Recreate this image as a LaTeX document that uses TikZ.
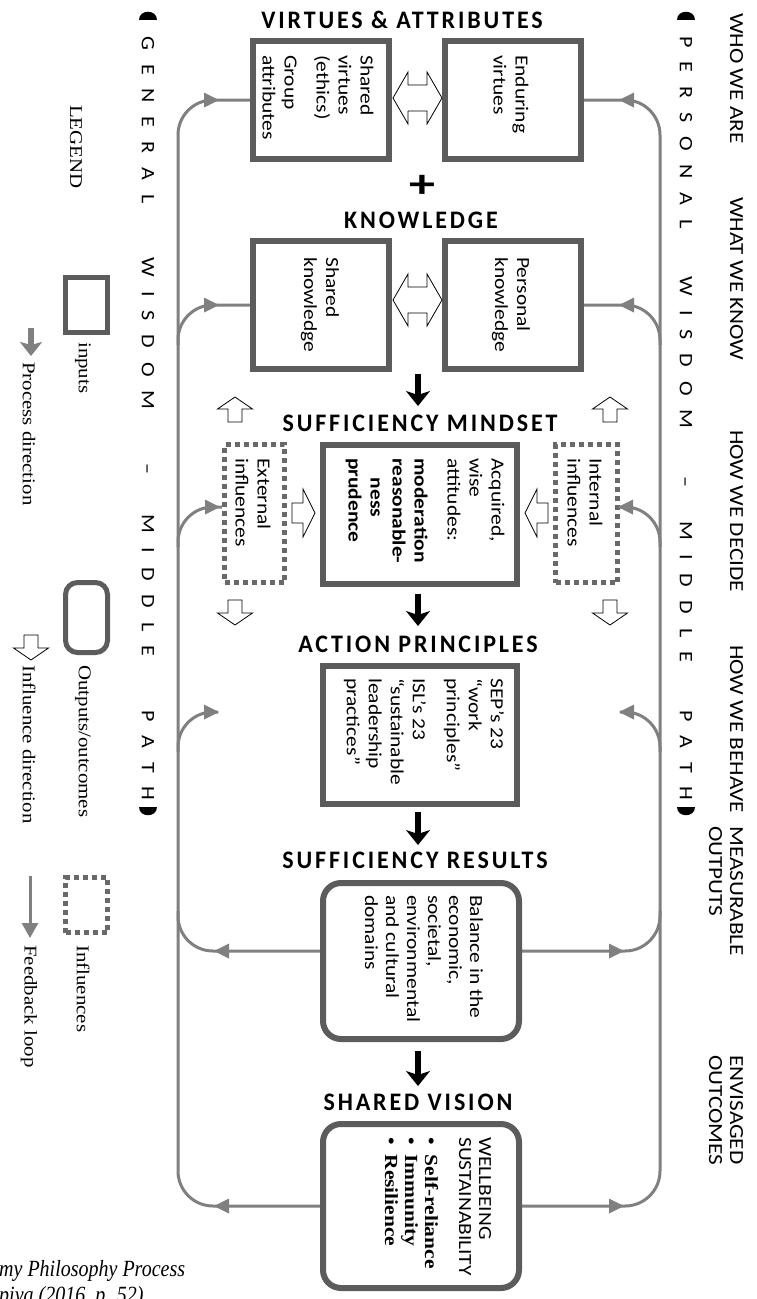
\documentclass[tikz,border=0pt]{standalone}
\usepackage{fontspec}
\setmainfont{Carlito}
\newfontfamily\headfont[LetterSpace=12]{Carlito}
\newfontfamily\tmsfont{Liberation Serif}
\usetikzlibrary{arrows.meta}
\pgfdeclarelayer{bg}
\pgfsetlayers{bg,main}
\definecolor{boxgray}{RGB}{92,92,92}
\definecolor{railc}{RGB}{128,128,128}
\definecolor{dotc}{RGB}{105,105,105}
\def\st{1.16}
\def\spc#1{\ifx#1\relax\else#1\kern12pt\expandafter\spc\fi}
\newcommand\ahR[2]{\fill[railc] (#1,#2) -- ++(-15,-7.5) -- ++(0,15) -- cycle;}
\newcommand\ahL[2]{\fill[railc] (#1,#2) -- ++(15,-7.5) -- ++(0,15) -- cycle;}
\newcommand\hup[2]{\draw[harrow] (#1,#2) -- ({#1+17.5},{#2+12}) -- ({#1+7},{#2+12}) -- ({#1+7},{#2+25}) -- ({#1-7},{#2+25}) -- ({#1-7},{#2+12}) -- ({#1-17.5},{#2+12}) -- cycle;}
\newcommand\hdown[2]{\draw[harrow] (#1,#2) -- ({#1+17.5},{#2-12}) -- ({#1+7},{#2-12}) -- ({#1+7},{#2-25}) -- ({#1-7},{#2-25}) -- ({#1-7},{#2-12}) -- ({#1-17.5},{#2-12}) -- cycle;}
\newcommand\hright[2]{\draw[harrow] (#1,#2) -- ({#1-12},{#2-24}) -- ({#1-12},{#2-10}) -- ({#1-23},{#2-10}) -- ({#1-23},{#2+10}) -- ({#1-12},{#2+10}) -- ({#1-12},{#2+24}) -- cycle;}
\newcommand\hleft[2]{\draw[harrow] (#1,#2) -- ({#1+12},{#2-24}) -- ({#1+12},{#2-10}) -- ({#1+23},{#2-10}) -- ({#1+23},{#2+10}) -- ({#1+12},{#2+10}) -- ({#1+12},{#2+24}) -- cycle;}
\newcommand\dblarrow[2]{\draw[harrow] (#1,#2) -- ({#1+15},{#2-26}) -- ({#1+15},{#2-13}) -- ({#1+34},{#2-13}) -- ({#1+34},{#2-26}) -- ({#1+49},#2) -- ({#1+34},{#2+26}) -- ({#1+34},{#2+13}) -- ({#1+15},{#2+13}) -- ({#1+15},{#2+26}) -- cycle;}
\begin{document}
\begin{tikzpicture}[x=1pt,y=-1pt,
  inbox/.style={draw=boxgray, line width=6pt, fill=white, inner sep=0pt},
  outbox/.style={inbox, rounded corners=18pt},
  infbox/.style={draw=dotc, line width=5pt, dash pattern=on 5pt off 4pt, inner sep=0pt},
  rt/.style={rotate=-90, xscale=\st, inner sep=0pt, anchor=west, align=left, font=\fontsize{18.5}{22}\selectfont},
  hd/.style={yscale=1.05, inner sep=0pt, anchor=base, font=\headfont\bfseries\fontsize{24}{28}\selectfont},
  lab/.style={rotate=-90, xscale=\st, inner sep=0pt, anchor=west, align=left, font=\fontsize{20}{21}\selectfont},
  spaced/.style={rotate=-90, xscale=\st, inner sep=0pt, anchor=west, font=\fontsize{19}{20}\selectfont},
  leg/.style={rotate=-90, xscale=\st, inner sep=0pt, anchor=west, font=\tmsfont\fontsize{18}{20}\selectfont},
  rail/.style={draw=railc, line width=3pt},
  harrow/.style={draw=black, fill=white, line width=0.8pt, line join=miter},
  parrow/.style={line width=5.5pt, -{Stealth[length=15pt,width=24pt,inset=4pt]}},
  captxt/.style={yscale=\st, inner sep=0pt, anchor=base west, font=\tmsfont\itshape\fontsize{20}{22}\selectfont}]
\useasboundingbox (0,0) rectangle (757,1299);
\clip (0,0) rectangle (757,1299);
\begin{pgfonlayer}{bg}
\fill[white] (0,0) rectangle (757,1299);
\end{pgfonlayer}

% ---------- boxes ----------
\node[inbox, minimum width=136pt, minimum height=118pt] (sv) at (321,100) {};
\node[inbox, minimum width=136pt, minimum height=118pt] (ev) at (513,100) {};
\node[inbox, minimum width=136pt, minimum height=128pt] (sk) at (321,305) {};
\node[inbox, minimum width=136pt, minimum height=128pt] (pk) at (513,305) {};
\node[inbox, minimum width=194pt, minimum height=139pt] (ms) at (420,514.5) {};
\node[inbox, minimum width=194pt, minimum height=138pt] (ap) at (420,735) {};
\node[outbox, minimum width=196pt, minimum height=156pt] (sr) at (421,961) {};
\node[outbox, minimum width=196pt, minimum height=164pt] (sh) at (421,1206) {};
\node[infbox, minimum width=60pt, minimum height=138pt] (ext) at (254.5,513.5) {};
\node[infbox, minimum width=62pt, minimum height=138pt] (int) at (586.5,513.5) {};

% ---------- box texts ----------
\node[rt] (svt) at (318,55) {Shared\\virtues\\(ethics)\\[10pt]Group\\attributes};
\node[rt] (evt) at (511,55) {Enduring\\virtues};
\node[rt] (skt) at (320,257) {Shared\\knowledge};
\node[rt] (pkt) at (511,257) {Personal\\knowledge};
\node[rt] (mst) at (425,458) {Acquired,\\wise\\attitudes:\\[11pt]\textbf{moderation}\\\textbf{reasonable-}\\\hspace*{17pt}\textbf{ness}\\\textbf{prudence}};
\node[rt] (apt) at (424,678) {SEP’s 23\\“work\\principles”\\[12pt]ISL’s 23\\“sustainable\\leadership\\practices”};
\node[rt, font=\fontsize{18.5}{21}\selectfont] (srt) at (424,895) {Balance in the\\economic,\\societal,\\environmental\\and cultural\\domains};
\node[rt, font=\fontsize{18.5}{20}\selectfont] (sht) at (438,1137) {WELLBEING\\SUSTAINABILITY\\[14pt]{\tmsfont\bfseries\makebox[15pt][l]{•}Self-reliance}\\{\tmsfont\bfseries\makebox[15pt][l]{•}Immunity}\\{\tmsfont\bfseries\makebox[15pt][l]{•}Resilience}};
\node[rt] (extt) at (253,458) {External\\influences};
\node[rt] (intt) at (585,458) {Internal\\influences};

% ---------- headings ----------
\node[hd] (h1) at (402,28) {VIRTUES \& ATTRIBUTES};
\node[font=\bfseries\fontsize{40}{40}\selectfont, xscale=1.3, inner sep=0pt] (plus) at (422,186) {+};
\node[hd] (h2) at (421,228) {KNOWLEDGE};
\node[hd] (h3) at (420,431) {SUFFICIENCY MINDSET};
\node[hd] (h4) at (418,652) {ACTION PRINCIPLES};
\node[hd] (h5) at (415,868) {SUFFICIENCY RESULTS};
\node[hd] (h6) at (418,1110) {SHARED VISION};

% ---------- process arrows ----------
\coordinate (a1s) at (418,374); \coordinate (a1e) at (418,406);
\coordinate (a2s) at (418,594); \coordinate (a2e) at (418,626);
\coordinate (a3s) at (418,812); \coordinate (a3e) at (418,845);
\coordinate (a4s) at (418,1051); \coordinate (a4e) at (418,1086);
\draw[parrow] (a1s) -- (a1e);
\draw[parrow] (a2s) -- (a2e);
\draw[parrow] (a3s) -- (a3e);
\draw[parrow] (a4s) -- (a4e);

% ---------- hollow arrows ----------
\dblarrow{393}{98}
\dblarrow{393}{300}
\hup{235}{397} \hup{610}{397}
\hdown{235}{625} \hdown{610}{625}
\hright{315}{513}
\hleft{525}{513}

% ---------- feedback rails ----------
\coordinate (Lact) at (218,712);
\coordinate (Ract) at (620,712);
\begin{pgfonlayer}{bg}
\draw[rail, rounded corners=35pt] (sv.west) -- (178,100) -- (178,1206) -- (sh.west);
\draw[rail, rounded corners=35pt] (178,345) -- (178,305) -- (sk.west);
\draw[rail, rounded corners=35pt] (178,547) -- (178,507) -- (ext.west |- 0,507);
\draw[rail, rounded corners=35pt] (178,752) -- (178,712) -- (Lact);
\draw[rail, rounded corners=35pt] (sr.west |- 0,951) -- (178,951) -- (178,911);
\draw[rail, rounded corners=35pt] (ev.east) -- (660,100) -- (660,1206) -- (sh.east);
\draw[rail, rounded corners=35pt] (660,345) -- (660,305) -- (pk.east);
\draw[rail, rounded corners=35pt] (660,547) -- (660,507) -- (int.east |- 0,507);
\draw[rail, rounded corners=35pt] (660,752) -- (660,712) -- (Ract);
\draw[rail, rounded corners=35pt] (sr.east |- 0,951) -- (660,951) -- (660,911);
\end{pgfonlayer}
\ahR{219}{100} \ahR{219}{305} \ahR{220}{507} \ahR{219}{712}
\ahL{214}{951} \ahL{214}{1206}
\ahL{619}{100} \ahL{619}{305} \ahL{618}{507} \ahL{619}{712}
\ahR{624}{951} \ahR{624}{1206}

% ---------- side columns ----------
\node[lab] (who) at (736.5,13) {WHO WE ARE};
\node[lab] (what) at (736.5,197) {WHAT WE KNOW};
\node[lab] (decide) at (736.5,430) {HOW WE DECIDE};
\node[lab] (behave) at (736.5,645) {HOW WE BEHAVE};
\node[lab] (meas) at (726,826) {MEASURABLE\\OUTPUTS};
\node[lab] (envi) at (726,1055) {ENVISAGED\\OUTCOMES};

\node[spaced] (pw) at (686,36) {\makebox[671pt][s]{\spc PERSONAL\relax\hfil\spc WISDOM\relax\hfil –\hfil\spc MIDDLE\relax\hfil\spc PATH\relax}};
\node[spaced] (gw) at (148,36) {\makebox[671pt][s]{\spc GENERAL\relax\hfil\spc WISDOM\relax\hfil –\hfil\spc MIDDLE\relax\hfil\spc PATH\relax}};
\fill (677,20) .. controls (677,9) and (695,9) .. (695,20) -- cycle;
\fill (677,807) .. controls (677,818) and (695,818) .. (695,807) -- cycle;
\fill (139,20) .. controls (139,9) and (157,9) .. (157,20) -- cycle;
\fill (139,807) .. controls (139,818) and (157,818) .. (157,807) -- cycle;

% ---------- legend ----------
\node[leg, font=\tmsfont\fontsize{18}{20}\selectfont] (legend) at (76,105) {LEGEND};
\node[inbox, line width=5pt, minimum width=42pt, minimum height=55pt] (lin) at (86.5,305) {};
\node[leg] (linT) at (83,342) {inputs};
\coordinate (lp1) at (31,328); \coordinate (lp2) at (31,356);
\draw[railc, line width=6pt, -{Stealth[length=14pt,width=22pt,inset=3pt]}] (lp1) -- (lp2);
\node[leg] (lpT) at (29,362) {Process direction};
\node[outbox, line width=5pt, rounded corners=12pt, minimum width=42pt, minimum height=70pt] (lout) at (86.5,617.5) {};
\node[leg] (loutT) at (83,665) {Outputs/outcomes};
\hdown{31}{660}
\node[leg] (linfT) at (29,665) {Influence direction};
\node[infbox, minimum width=42pt, minimum height=55pt] (linf) at (86.5,905) {};
\node[leg] (linfbT) at (83,945) {Influences};
\coordinate (fb1) at (30,876); \coordinate (fb2) at (30,938);
\draw[rail, -{Triangle[length=15pt,width=16pt]}] (fb1) -- (fb2);
\node[leg] (fbT) at (29,945) {Feedback loop};

% ---------- caption ----------
\node[captxt] (cap1) at (-1,1276) {my Philosophy Process};
\node[captxt] (cap2) at (-1,1302) {piya (2016, p. 52)};
\end{tikzpicture}
\end{document}
